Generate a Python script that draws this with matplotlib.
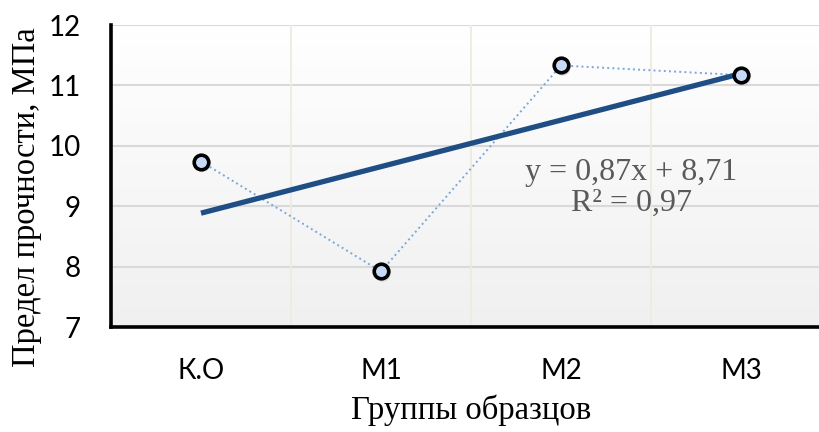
import numpy as np
import matplotlib
matplotlib.use('Agg')
import matplotlib.pyplot as plt

# data
groups = ['К.О', 'М1', 'М2', 'М3']
strength = [9.74, 7.92, 11.33, 11.17]
eq_text = 'y = 0,87x + 8,71\nR² = 0,97'

x = np.arange(1, len(groups) + 1)
slope, intercept = np.polyfit(x, strength, 1)
trend = slope * x + intercept

fig = plt.figure(figsize=(8.19, 4.32), dpi=100)
ax = fig.add_axes([111 / 819, 1 - 327 / 432, 720 / 819, 302 / 432])

# gradient background of the plot area
grad = np.linspace(0, 1, 256).reshape(-1, 1)
ax.imshow(grad, extent=[0.5, 4.5, 7, 12], aspect='auto', origin='upper',
          cmap=matplotlib.colors.LinearSegmentedColormap.from_list('bg', ['#ffffff', '#f0f0f0']),
          zorder=0)

ax.set_xlim(0.5, 4.5)
ax.set_ylim(7, 12)

# gridlines
for yv in range(8, 13):
    ax.axhline(yv, color='#d9d9d9', lw=1.5, zorder=1)
for xv in [1.5, 2.5, 3.5]:
    ax.axvline(xv, color='#eeebe0', lw=1.3, zorder=1)

ax.plot(x, strength, ls=':', color='#7aa7dc', lw=1.4, zorder=2)
ax.plot(x, trend, color='#1f4e85', lw=3.8, solid_capstyle='butt', zorder=3)
# soft shadow under the markers
ax.plot(x, strength, ls='none', marker='o', ms=12, mfc='#b0b0b0', mec='none',
        alpha=0.35, zorder=3.5, transform=ax.transData + matplotlib.transforms.ScaledTranslation(1 / 100, -1.5 / 100, fig.dpi_scale_trans))
ax.plot(x, strength, ls='none', marker='o', ms=10.5, mfc='#c6d9f6', mec='black',
        mew=2.6, zorder=4)

ax.text(3.39, 9.3, eq_text, ha='center', va='center', fontsize=23,
        family='Liberation Serif', color='#595959', linespacing=1.1)

for s in ['top', 'right']:
    ax.spines[s].set_visible(False)
for s in ['left', 'bottom']:
    ax.spines[s].set_linewidth(2.6)
    ax.spines[s].set_color('black')

ax.set_xticks(x)
ax.set_xticklabels(groups)
ax.set_yticks(range(7, 13))
ax.tick_params(length=0, labelsize=20)
ax.tick_params(axis='x', pad=22)
ax.tick_params(axis='y', pad=22)
for lab in ax.get_xticklabels() + ax.get_yticklabels():
    lab.set_family('Lato')

ax.set_xlabel('Группы образцов', family='Liberation Serif', fontsize=23.5)
ax.set_ylabel('Предел прочности, МПа', family='Liberation Serif', fontsize=23.5)
ax.xaxis.set_label_coords(0.5, (327 - 410) / 302, transform=ax.transAxes)
ax.yaxis.set_label_coords((27 - 111) / 720, (327 - 197) / 302, transform=ax.transAxes)
ax.xaxis.label.set_va('center')
ax.yaxis.label.set_va('center')

fig.savefig('out.png', dpi=100)
